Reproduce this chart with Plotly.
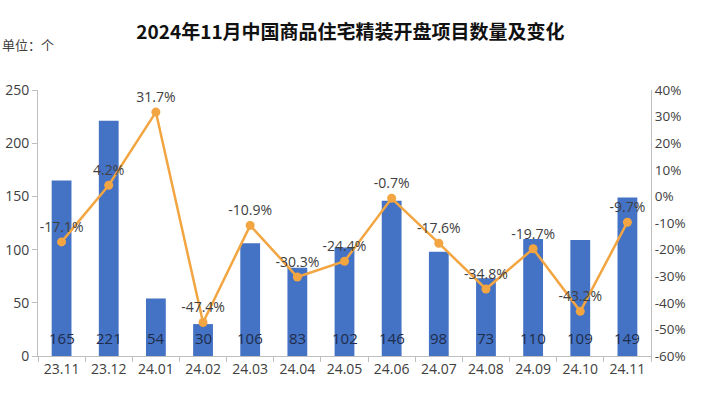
import plotly.graph_objects as go

categories = ["23.11", "23.12", "24.01", "24.02", "24.03", "24.04", "24.05",
              "24.06", "24.07", "24.08", "24.09", "24.10", "24.11"]
counts = [165, 221, 54, 30, 106, 83, 102, 146, 98, 73, 110, 109, 149]
yoy_pct = [-17.1, 4.2, 31.7, -47.4, -10.9, -30.3, -24.4, -0.7, -17.6, -34.8, -19.7, -43.2, -9.7]
right_ticks = [-60, -50, -40, -30, -20, -10, 0, 10, 20, 30, 40]

FONT = "Open Sans, Noto Sans CJK SC, sans-serif"
W, H = 701, 395
L, R, T, B = 38, 50, 90, 39

fig = go.Figure()
fig.add_trace(go.Bar(
    x=categories, y=counts, width=0.42,
    marker=dict(color="#4472C4", line=dict(width=0)),
    hoverinfo="skip",
))
fig.add_trace(go.Scatter(
    x=categories, y=yoy_pct, yaxis="y2", mode="lines+markers+text",
    line=dict(color="#F2A541", width=2.5),
    marker=dict(color="#F2A541", size=9),
    text=[f"{v}%" for v in yoy_pct], textposition="top center",
    textfont=dict(size=14, color="#404040", family=FONT),
    cliponaxis=False, hoverinfo="skip",
))

annotations = [dict(text="单位：个", xref="paper", yref="paper", x=-L / (W - L - R),
                    y=1 + (T - 45) / (H - T - B),
                    xanchor="left", yanchor="middle", showarrow=False,
                    font=dict(size=13, color="#404040", family="Noto Sans CJK SC"))]
for i, v in enumerate(counts):
    annotations.append(dict(text=str(v), x=i, y=0, xref="x", yref="y",
                            yanchor="bottom", yshift=6, showarrow=False,
                            font=dict(size=15, color="#1F2D4A", family=FONT)))

fig.update_layout(
    width=W, height=H,
    margin=dict(l=L, r=R, t=T, b=B),
    paper_bgcolor="white", plot_bgcolor="white",
    showlegend=False,
    font=dict(family=FONT, color="#595959", size=12),
    title=dict(text="<b>2024年11月中国商品住宅精装开盘项目数量及变化</b>",
               x=0.5, xanchor="center", y=1 - 32 / H, yanchor="middle",
               font=dict(size=19, color="#111111", family="Noto Sans CJK SC")),
    xaxis=dict(type="category", range=[-0.5, len(categories) - 0.5],
               showline=True, linecolor="#BFBFBF",
               ticks="outside", ticklen=5, tickcolor="#BFBFBF",
               tickson="boundaries", showgrid=False, automargin=False,
               tickangle=0, tickfont=dict(size=14, color="#404040")),
    yaxis=dict(range=[0, 250], dtick=50, showline=True, linecolor="#BFBFBF",
               ticks="outside", ticklen=5, tickcolor="#BFBFBF", showgrid=False,
               zeroline=False, automargin=False,
               tickfont=dict(size=14, color="#404040")),
    yaxis2=dict(range=[-60, 40], overlaying="y", side="right",
                tickvals=right_ticks, ticktext=[f"{v}%" for v in right_ticks],
                showline=True, linecolor="#BFBFBF", ticks="", showgrid=False,
                zeroline=False, automargin=False,
                tickfont=dict(size=13.5, color="#404040")),
    annotations=annotations,
)

fig.write_html("out.html", config={"displayModeBar": False},
               post_script="document.body.style.margin='0';")
